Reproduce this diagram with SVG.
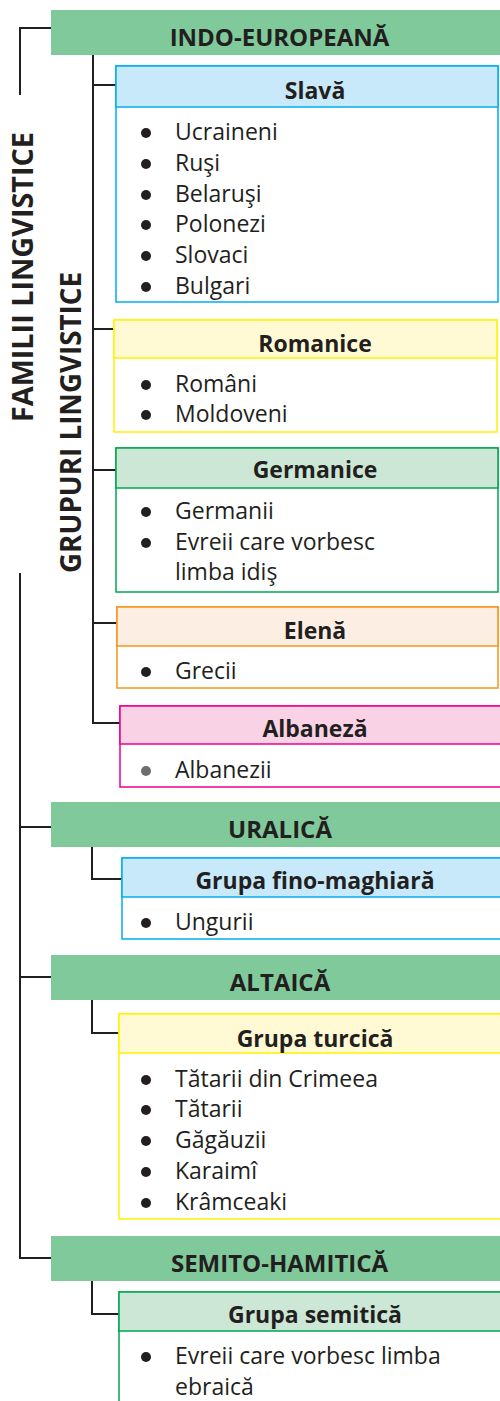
<svg xmlns="http://www.w3.org/2000/svg" width="500" height="1401" viewBox="0 0 500 1401">
<style>
.band{fill:#80c99b}
.bt{font-family:"Open Sans","Liberation Sans",sans-serif;font-weight:700;font-size:24px;fill:#231f20;text-anchor:middle}
.ht{font-family:"Open Sans","Liberation Sans",sans-serif;font-weight:700;font-size:23px;fill:#231f20;text-anchor:middle}
.it{font-family:"Open Sans","Liberation Sans",sans-serif;font-size:23px;fill:#231f20}
.vt{font-family:"Open Sans","Liberation Sans",sans-serif;font-weight:700;font-size:29px;fill:#231f20;text-anchor:middle}
.bl{fill:#231f20}
.conn path{fill:none;stroke:#231f20;stroke-width:2}
.blue .h{fill:#c7e9f9}.blue rect{stroke:#00aeef}
.yel .h{fill:#fffad4}.yel rect{stroke:#fff200}
.grn .h{fill:#cce7d6}.grn rect{stroke:#00a651}
.org .h{fill:#fdeee4}.org rect{stroke:#f7941d}
.pnk .h{fill:#f9d3e5}.pnk rect{stroke:#ec008c}
.box rect{stroke-width:1.5}
.box rect.b{fill:#ffffff}
</style>

<g id="labels">
<text class="vt" transform="translate(33,277) rotate(-90)" textLength="290" lengthAdjust="spacingAndGlyphs">FAMILII LINGVISTICE</text>
<text class="vt" transform="translate(81,422.5) rotate(-90)" textLength="301" lengthAdjust="spacingAndGlyphs">GRUPURI LINGVISTICE</text>
</g>

<g class="conn" id="connectors">
<path d="M51,28 H20 V95"/>
<path d="M20,573 V1258 H51"/>
<path d="M20,827 H51"/>
<path d="M20,977 H51"/>
<path d="M93,55 V723 H120"/>
<path d="M93,85 H116"/>
<path d="M93,329 H114"/>
<path d="M93,470 H116"/>
<path d="M93,623 H117"/>
<path d="M92,847 V879 H122"/>
<path d="M92,1000 V1033 H119"/>
<path d="M92,1281 V1314 H119"/>
</g>

<g id="indo">
<rect class="band" x="51" y="10" width="449" height="45"/>
<text class="bt" x="279.5" y="46">INDO-EUROPEANĂ</text>
</g>

<g id="slava" class="box blue">
<rect class="b" x="116" y="66" width="382" height="236"/>
<rect class="h" x="116" y="66" width="382" height="41"/>
<text class="ht" x="315" y="99">Slavă</text>
<circle class="bl" cx="146" cy="133" r="5"/><text class="it" x="175" y="140">Ucraineni</text>
<circle class="bl" cx="146" cy="164" r="5"/><text class="it" x="175" y="171">Ruşi</text>
<circle class="bl" cx="146" cy="195" r="5"/><text class="it" x="175" y="202">Belaruşi</text>
<circle class="bl" cx="146" cy="225" r="5"/><text class="it" x="175" y="232">Polonezi</text>
<circle class="bl" cx="146" cy="256" r="5"/><text class="it" x="175" y="263">Slovaci</text>
<circle class="bl" cx="146" cy="287" r="5"/><text class="it" x="175" y="294">Bulgari</text>
</g>

<g id="romanice" class="box yel">
<rect class="b" x="114" y="320" width="383" height="112"/>
<rect class="h" x="114" y="320" width="383" height="38"/>
<text class="ht" x="315" y="352">Romanice</text>
<circle class="bl" cx="146" cy="385" r="5"/><text class="it" x="175" y="392">Români</text>
<circle class="bl" cx="146" cy="415" r="5"/><text class="it" x="175" y="422">Moldoveni</text>
</g>

<g id="germanice" class="box grn">
<rect class="b" x="116" y="448" width="382" height="144"/>
<rect class="h" x="116" y="448" width="382" height="40"/>
<text class="ht" x="315" y="478">Germanice</text>
<circle class="bl" cx="146" cy="512" r="5"/><text class="it" x="175" y="519">Germanii</text>
<circle class="bl" cx="146" cy="543" r="5"/><text class="it" x="175" y="550">Evreii care vorbesc</text>
<text class="it" x="175" y="580">limba idiş</text>
</g>

<g id="elena" class="box org">
<rect class="b" x="117" y="607" width="381" height="81"/>
<rect class="h" x="117" y="607" width="381" height="39"/>
<text class="ht" x="315" y="639">Elenă</text>
<circle class="bl" cx="146" cy="672" r="5"/><text class="it" x="175" y="679">Grecii</text>
</g>

<g id="albaneza" class="box pnk">
<rect class="b" x="120" y="706" width="400" height="81"/>
<rect class="h" x="120" y="706" width="400" height="38"/>
<text class="ht" x="315" y="737">Albaneză</text>
<circle cx="146" cy="771" r="5" fill="#6d6e71"/><text class="it" x="175" y="778">Albanezii</text>
</g>

<g id="uralica">
<rect class="band" x="51" y="802" width="449" height="45"/>
<text class="bt" x="280" y="838">URALICĂ</text>
</g>

<g id="fino" class="box blue">
<rect class="b" x="122" y="858" width="400" height="81"/>
<rect class="h" x="122" y="858" width="400" height="39"/>
<text class="ht" x="315" y="889">Grupa fino-maghiară</text>
<circle class="bl" cx="146" cy="923" r="5"/><text class="it" x="175" y="930">Ungurii</text>
</g>

<g id="altaica">
<rect class="band" x="51" y="955" width="449" height="45"/>
<text class="bt" x="280" y="991">ALTAICĂ</text>
</g>

<g id="turcica" class="box yel">
<rect class="b" x="119" y="1014" width="400" height="205"/>
<rect class="h" x="119" y="1014" width="400" height="39"/>
<text class="ht" x="315" y="1047">Grupa turcică</text>
<circle class="bl" cx="146" cy="1080" r="5"/><text class="it" x="175" y="1087">Tătarii din Crimeea</text>
<circle class="bl" cx="146" cy="1110" r="5"/><text class="it" x="175" y="1117">Tătarii</text>
<circle class="bl" cx="146" cy="1141" r="5"/><text class="it" x="175" y="1148">Găgăuzii</text>
<circle class="bl" cx="146" cy="1172" r="5"/><text class="it" x="175" y="1179">Karaimî</text>
<circle class="bl" cx="146" cy="1203" r="5"/><text class="it" x="175" y="1210">Krâmceaki</text>
</g>

<g id="semito">
<rect class="band" x="51" y="1236" width="449" height="45"/>
<text class="bt" x="279.5" y="1272">SEMITO-HAMITICĂ</text>
</g>

<g id="semitica" class="box grn">
<rect class="b" x="119" y="1292" width="400" height="130"/>
<rect class="h" x="119" y="1292" width="400" height="39"/>
<text class="ht" x="315" y="1323">Grupa semitică</text>
<circle class="bl" cx="146" cy="1357" r="5"/><text class="it" x="175" y="1364">Evreii care vorbesc limba</text>
<text class="it" x="175" y="1395">ebraică</text>
</g>
</svg>
